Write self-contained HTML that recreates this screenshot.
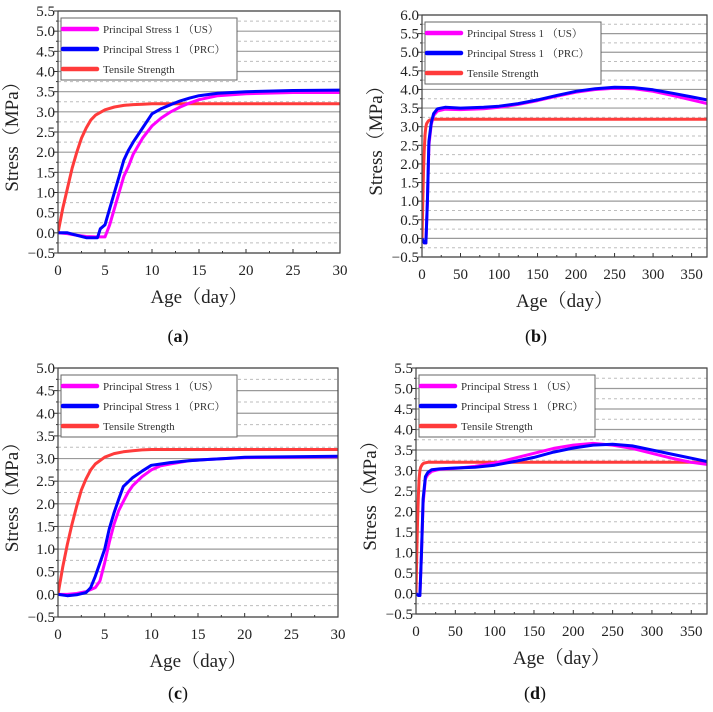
<!DOCTYPE html>
<html><head><meta charset="utf-8">
<style>
html,body{margin:0;padding:0;background:#fff;}
svg{display:block;}
svg text{font-family:"Liberation Serif","Noto Serif CJK SC",serif;}
</style></head>
<body>
<svg id="fig" width="713" height="712" viewBox="0 0 713 712" xmlns="http://www.w3.org/2000/svg" font-family="'Liberation Serif', 'Noto Serif CJK SC', serif"></svg>
<script>
// ---- data arrays ----
const seriesNames = ["Principal Stress 1 (US)", "Principal Stress 1 (PRC)", "Tensile Strength"];
const legendLabels = ["Principal Stress 1\u00a0（US）", "Principal Stress 1\u00a0（PRC）", "Tensile Strength"];

const aUSx = [0,1,2,3,4,4.6,5,5.5,6,6.5,7,7.5,8,9,10,11,12,13,14,15,17,20,25,30];
const aUSy = [0,-0.02,-0.06,-0.09,-0.1,-0.1,-0.1,0.2,0.6,1.0,1.4,1.65,1.95,2.35,2.65,2.85,3.0,3.12,3.22,3.3,3.4,3.45,3.48,3.48];
const aPRx = [0,1,2,3,4.2,4.5,5,5.5,6,6.5,7,7.5,8,9,10,11,12,13,14,15,17,20,25,30];
const aPRy = [0,0,-0.06,-0.12,-0.12,0.1,0.2,0.6,1.0,1.4,1.8,2.05,2.25,2.6,2.95,3.08,3.18,3.27,3.34,3.4,3.46,3.5,3.53,3.54];
const aTSx = [0,0.5,1,1.5,2,2.5,3,3.5,4,5,6,7,8,9,10,12,15,20,30];
const aTSy = [0,0.6,1.1,1.6,2.0,2.35,2.6,2.8,2.92,3.05,3.12,3.16,3.18,3.19,3.2,3.2,3.2,3.2,3.2];

const bUSx = [0,3,5,7,9,12,15,20,30,50,80,100,125,150,175,200,225,250,275,300,325,350,370];
const bUSy = [0,-0.12,-0.12,1.0,2.5,3.05,3.3,3.42,3.47,3.46,3.48,3.52,3.6,3.7,3.82,3.93,4.0,4.03,4.02,3.95,3.84,3.72,3.62];
const bPRx = [0,3,5,7,9,12,15,20,30,50,80,100,125,150,175,200,225,250,275,300,325,350,370];
const bPRy = [0,-0.12,-0.12,1.0,2.6,3.1,3.35,3.48,3.52,3.5,3.52,3.55,3.62,3.72,3.84,3.95,4.02,4.06,4.05,3.99,3.9,3.8,3.72];
const bTSx = [0,1,2,3,4,5,6,8,10,15,20,370];
const bTSy = [0,1.0,1.8,2.4,2.8,3.0,3.08,3.15,3.18,3.2,3.2,3.2];

const cUSx = [0,1,2,3,4,4.5,5,5.5,6,6.5,7,7.5,8,9,10,11,12,14,16,18,20,25,30];
const cUSy = [0,0,0.02,0.06,0.15,0.3,0.7,1.15,1.55,1.85,2.05,2.25,2.4,2.6,2.75,2.84,2.88,2.95,2.98,3.0,3.02,3.03,3.04];
const cPRx = [0,1,2,3,3.5,4,4.5,5,5.5,6,6.5,7,7.5,8,9,10,11,12,14,16,18,20,25,30];
const cPRy = [0,-0.03,-0.01,0.04,0.15,0.4,0.7,1.0,1.45,1.8,2.1,2.38,2.48,2.58,2.72,2.85,2.88,2.91,2.95,2.98,3.0,3.03,3.04,3.05];
const cTSx = [0,0.5,1,1.5,2,2.5,3,3.5,4,5,6,7,8,9,10,12,15,20,30];
const cTSy = [0,0.6,1.1,1.55,1.95,2.3,2.55,2.75,2.88,3.03,3.11,3.15,3.17,3.19,3.2,3.2,3.2,3.2,3.2];

const dUSx = [0,3,5,7,9,12,15,20,30,50,75,100,125,150,175,200,225,250,275,300,325,350,370];
const dUSy = [0,-0.05,-0.05,1.0,2.2,2.8,2.9,2.98,3.03,3.05,3.1,3.18,3.3,3.42,3.54,3.62,3.66,3.62,3.54,3.42,3.3,3.2,3.15];
const dPRx = [0,3,5,7,9,12,15,20,30,50,75,100,125,150,175,200,225,250,275,300,325,350,370];
const dPRy = [0,-0.05,-0.05,1.0,2.3,2.85,2.95,3.02,3.04,3.06,3.08,3.13,3.22,3.32,3.45,3.55,3.62,3.64,3.6,3.5,3.4,3.3,3.22];
const dTSx = [0,1,2,3,4,5,6,8,10,15,20,370];
const dTSy = [0,1.0,1.8,2.4,2.8,3.0,3.08,3.15,3.18,3.2,3.2,3.2];

const aXTicks = [0,5,10,15,20,25,30];
const bXTicks = [0,50,100,150,200,250,300,350];
const aYTicks = [-0.5,0,0.5,1,1.5,2,2.5,3,3.5,4,4.5,5,5.5];
const bYTicks = [-0.5,0,0.5,1,1.5,2,2.5,3,3.5,4,4.5,5,5.5,6];
const cYTicks = [-0.5,0,0.5,1,1.5,2,2.5,3,3.5,4,4.5,5];
const panelLetters = ["a","b","c","d"];

// ---- drawing ----
const NS = "http://www.w3.org/2000/svg";
const FF = "'Liberation Serif', 'Noto Serif CJK SC', serif";
const svg = document.getElementById("fig");
function mk(tag, attrs, parent){
  const e = document.createElementNS(NS, tag);
  for (const k in attrs) e.setAttribute(k, attrs[k]);
  if (tag === "text") e.setAttribute("font-family", FF);
  (parent||svg).appendChild(e);
  return e;
}
const colors = ["#ff00ff","#0000ff","#ff3b3b"];
const fmt = v => (v<0 ? "\u2212" + Math.abs(v).toFixed(1) : v.toFixed(1));

function panel(cfg){
  const g = mk("g", {});
  
  
  const {L,R,T,B,xmax,ymin,ymax} = cfg;
  const sx = v => L + (v/xmax)*(R-L);
  const sy = v => B - (v-ymin)/(ymax-ymin)*(B-T);
  for (let v = ymin; v <= ymax+1e-9; v += 0.25){
    const major = Math.abs(v*2 - Math.round(v*2)) < 1e-6;
    const ln = mk("line", {x1:L, x2:R, y1:sy(v), y2:sy(v), stroke: major?"#9a9a9a":"#bdbdbd", "stroke-width": major?1.2:1, "stroke-dasharray": major?"":"3,3"}, g);
    
    
  }
  cfg.yticks.forEach(v => {
    mk("line", {x1:L-4, x2:L, y1:sy(v), y2:sy(v), stroke:"#333", "stroke-width":1}, g);
    const t = mk("text", {x:L-3, y:sy(v)+5, "text-anchor":"end", "font-size":15, fill:"#222"}, g);
    t.textContent = fmt(v);
    
    
  });
  for (let v = ymin+0.25; v < ymax; v += 0.5) mk("line", {x1:L-2, x2:L, y1:sy(v), y2:sy(v), stroke:"#333"}, g);
  const step = cfg.xticks[1]-cfg.xticks[0];
  cfg.xticks.forEach(v => {
    mk("line", {x1:sx(v), x2:sx(v), y1:B, y2:B-4, stroke:"#333"}, g);
    if (v+step/2 < xmax) mk("line", {x1:sx(v+step/2), x2:sx(v+step/2), y1:B, y2:B-2, stroke:"#333"}, g);
    const t = mk("text", {x:sx(v), y:B+22, "text-anchor":"middle", "font-size":15, fill:"#222"}, g);
    t.textContent = v;
    
    
  });
  const clipId = "clip" + cfg.letter;
  const cp = mk("clipPath", {id:clipId}, g);
  mk("rect", {x:L, y:T, width:R-L, height:B-T}, cp);
  [2,0,1].forEach(i => {
    const xs = cfg.xs[i], ys = cfg.ys[i];
    const d = xs.map((x,j) => (j?"L":"M") + sx(x).toFixed(1) + "," + sy(ys[j]).toFixed(1)).join(" ");
    const p = mk("path", {d, fill:"none", stroke:colors[i], "stroke-width":3, "stroke-linejoin":"round", "clip-path":"url(#"+clipId+")"}, g);
    
    
  });
  const fr = mk("rect", {x:L, y:T, width:R-L, height:B-T, fill:"none", stroke:"#444", "stroke-width":1.2}, g);
  
  
  const lx = L+3, ly = T+7;
  const lg = mk("g", {}, g);
  
  
  mk("rect", {x:lx, y:ly, width:176, height:62, fill:"#fff", stroke:"#666", "stroke-width":1}, lg);
  legendLabels.forEach((lab,i) => {
    const yy = ly + 11 + i*20;
    mk("line", {x1:lx+2, x2:lx+36, y1:yy, y2:yy, stroke:colors[i], "stroke-width":4.5, "stroke-linecap":"round"}, lg);
    const t = mk("text", {x:lx+42, y:yy+4, "font-size":11, fill:"#333"}, lg);
    t.textContent = lab;
    
    
  });
  const xt = mk("text", {x:(L+R)/2, y:B+50, "text-anchor":"middle", "font-size":19, fill:"#222"}, g);
  xt.textContent = "Age（day）";
  
  
  const yc = (T+B)/2;
  const yt = mk("text", {x:L-40, y:yc, "text-anchor":"middle", "font-size":19, fill:"#222", transform:"rotate(-90 "+(L-40)+" "+yc+")"}, g);
  yt.textContent = "Stress（MPa）";
  
  
  const pl = mk("text", {x:cfg.labX, y:cfg.labY, "text-anchor":"middle", "font-size":18, fill:"#111"}, g);
  pl.innerHTML = "(<tspan font-weight='bold'>" + cfg.letter + "</tspan>)";
  
  
}

panel({letter:panelLetters[0], L:58, R:340, T:11, B:253, xmax:30, ymin:-0.5, ymax:5.5, xticks:aXTicks, yticks:aYTicks,
  xs:[aUSx,aPRx,aTSx], ys:[aUSy,aPRy,aTSy], labX:178, labY:342});
panel({letter:panelLetters[1], L:422, R:707, T:15, B:257, xmax:370, ymin:-0.5, ymax:6, xticks:bXTicks, yticks:bYTicks,
  xs:[bUSx,bPRx,bTSx], ys:[bUSy,bPRy,bTSy], labX:536, labY:342});
panel({letter:panelLetters[2], L:58, R:338, T:368, B:617, xmax:30, ymin:-0.5, ymax:5, xticks:aXTicks, yticks:cYTicks,
  xs:[cUSx,cPRx,cTSx], ys:[cUSy,cPRy,cTSy], labX:178, labY:699});
panel({letter:panelLetters[3], L:416, R:707, T:368, B:614, xmax:370, ymin:-0.5, ymax:5.5, xticks:bXTicks, yticks:aYTicks,
  xs:[dUSx,dPRx,dTSx], ys:[dUSy,dPRy,dTSy], labX:535, labY:699});
</script>
</body></html>
